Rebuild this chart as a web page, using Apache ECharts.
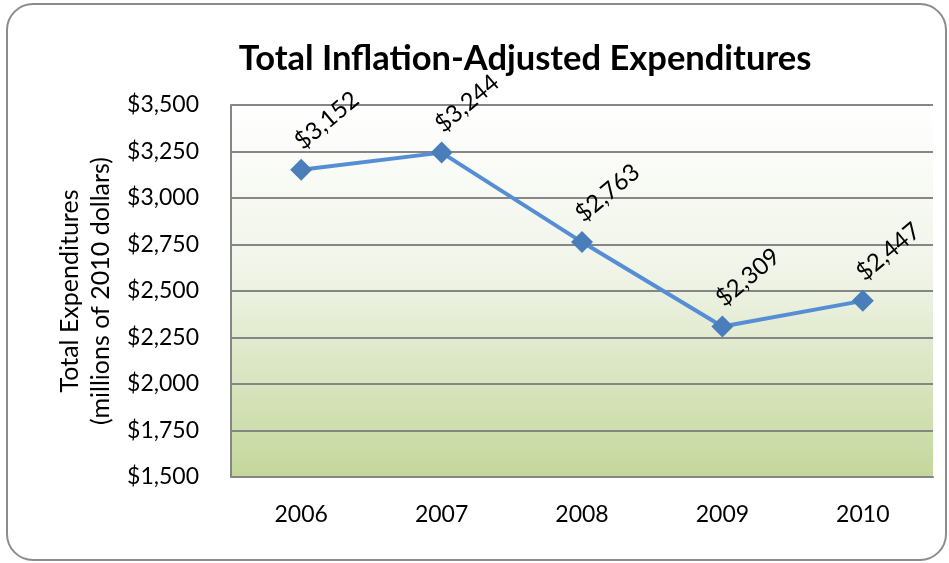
<!DOCTYPE html>
<html>
<head>
<meta charset="utf-8">
<script src="https://cdn.jsdelivr.net/npm/echarts@6/dist/echarts.min.js"></script>
<style>
html,body{margin:0;padding:0;background:#fff;}
#c{width:949px;height:563px;}
</style>
</head>
<body>
<div id="c"></div>
<script>
var categories = ['2006', '2007', '2008', '2009', '2010'];
var expenditures = [3152, 3244, 2763, 2309, 2447];
var yMin = 1500, yMax = 3500, yStep = 250;

function money(v) {
  return '$' + String(v).replace(/\B(?=(\d{3})+(?!\d))/g, ',');
}

var chart = echarts.init(document.getElementById('c'));
var FONT = 'Lato';
chart.setOption({
  animation: false,
  textStyle: { fontFamily: FONT },
  title: {
    text: 'Total Inflation-Adjusted Expenditures',
    left: 520,
    textAlign: 'center',
    top: 36,
    textStyle: { fontFamily: FONT, fontSize: 34.5, fontWeight: 'bold', color: '#000' }
  },
  graphic: [{
    type: 'rect',
    shape: { x: 7, y: 4, width: 939, height: 556, r: 26 },
    style: { fill: 'none', stroke: '#8c8c8c', lineWidth: 2 },
    z: -10
  }],
  grid: {
    left: 231, right: 16, top: 105, bottom: 86,
    show: true,
    borderWidth: 0,
    backgroundColor: new echarts.graphic.LinearGradient(0, 0, 0, 1, [
      { offset: 0, color: '#ffffff' },
      { offset: 0.45, color: '#f0f4e8' },
      { offset: 1, color: '#c4d79b' }
    ])
  },
  xAxis: {
    type: 'category',
    data: categories,
    boundaryGap: true,
    axisLine: { lineStyle: { color: '#868686', width: 2 } },
    axisTick: { show: false },
    axisLabel: { color: '#000', fontSize: 23, margin: 26, fontFamily: FONT }
  },
  yAxis: {
    type: 'value',
    min: yMin, max: yMax, interval: yStep,
    name: 'Total Expenditures\n(millions of 2010 dollars)',
    nameLocation: 'middle',
    nameGap: 113,
    nameTextStyle: { color: '#000', fontSize: 25, lineHeight: 31, fontFamily: FONT },
    axisLine: { show: true, lineStyle: { color: '#868686', width: 2 } },
    axisTick: { show: false },
    splitLine: { lineStyle: { color: '#868686', width: 2 } },
    axisLabel: { color: '#000', fontSize: 23, margin: 32, formatter: money, fontFamily: FONT }
  },
  series: [{
    type: 'line',
    data: expenditures,
    lineStyle: { color: '#558ed5', width: 4 },
    itemStyle: { color: '#4a7ebb' },
    symbol: 'diamond',
    symbolSize: [22, 22],
    label: {
      show: true,
      position: 'top',
      distance: 1,
      rotate: 40,
      align: 'left',
      verticalAlign: 'bottom',
      offset: [6, 0],
      color: '#000',
      fontSize: 24,
      fontFamily: FONT,
      formatter: function (p) { return money(p.value); }
    }
  }]
});
</script>
</body>
</html>
